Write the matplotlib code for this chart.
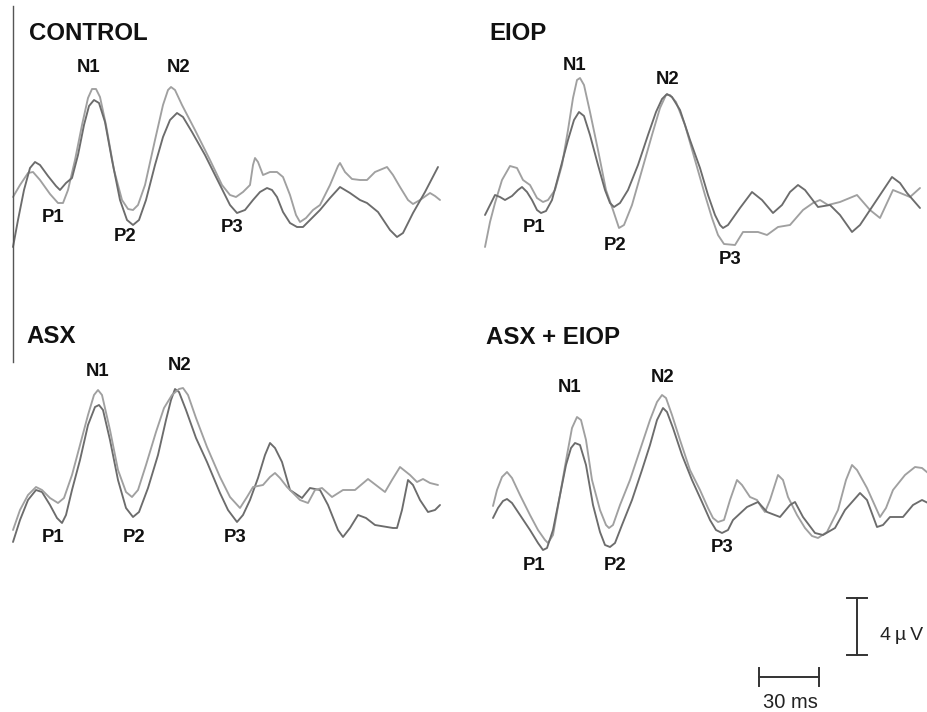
import matplotlib
matplotlib.use("Agg")
import matplotlib.pyplot as plt

W, H = 928, 712

# ---------------- data (time in ms, amplitude in µV) ----------------
# CONTROL
T_CONTROL_1 = [0, 3.5, 7.5, 10, 13.5, 18.5, 22.5, 25, 27.5, 31, 34.5, 37.5, 39.5, 41.5, 43.5, 46.5, 50.5, 54.5,
               57.5, 60, 62.5, 66, 71, 75, 77.5, 79, 81, 84.5, 91, 98.5, 104.5, 108.5, 111.5, 115, 118.5, 120,
               121, 122.5, 125, 128.5, 132, 135, 138.5, 141.5, 143.5, 146.5, 150, 153.5, 158.5, 162.5, 163.5,
               166, 169.5, 173.5, 177, 181, 187, 190, 193.5, 197.5, 200, 203.5, 208.5, 211, 213.5]
V_CONTROL_1 = [0.21, 1.05, 1.89, 1.96, 1.4, 0.42, -0.21, -0.21, 0.7, 2.8, 5.25, 7.14, 7.77, 7.77, 7.21, 5.25, 2.1, 0,
               -0.63, -0.7, -0.35, 1.05, 4.2, 6.65, 7.7, 7.91, 7.7, 6.65, 4.9, 2.8, 1.05, 0.35, 0.21, 0.56, 1.05,
               2.45, 2.94, 2.66, 1.75, 1.96, 1.96, 1.61, 0.35, -1.05, -1.54, -1.26, -0.7, -0.35, 1.05, 2.38, 2.59,
               1.96, 1.47, 1.4, 1.4, 1.96, 2.31, 1.75, 0.91, 0, -0.28, 0, 0.49, 0.28, 0]
T_CONTROL_2 = [0, 2.5, 5.5, 8.5, 11, 13.5, 17.5, 21.5, 23.5, 26.5, 29.5, 32.5, 35.5, 38, 40.5, 43, 46, 49.5, 53.5,
               57, 60, 63, 66.5, 71, 75, 78.5, 82, 85, 89.5, 96, 103.5, 108.5, 112, 116, 120, 123.5, 127, 129.5,
               132, 135, 138.5, 142, 145, 148.5, 153.5, 158.5, 163.5, 168.5, 173.5, 177, 182.5, 188.5, 192, 195,
               200, 206, 212.5]
V_CONTROL_2 = [-3.29, -1.4, 0.7, 2.24, 2.66, 2.45, 1.68, 0.98, 0.7, 1.19, 1.54, 3.15, 5.25, 6.58, 7.0, 6.79, 5.46,
               2.8, 0, -1.4, -1.75, -1.4, 0, 2.45, 4.41, 5.6, 6.09, 5.81, 4.76, 3.15, 1.05, -0.35, -0.91, -0.7, 0,
               0.56, 0.84, 0.7, 0.21, -0.84, -1.61, -1.89, -1.89, -1.4, -0.7, 0.14, 0.91, 0.49, 0, -0.21, -0.84,
               -2.1, -2.59, -2.31, -0.91, 0.56, 2.31]

# EIOP
T_EIOP_1 = [0, 2.5, 5, 8.5, 12.5, 16, 19, 22.5, 26, 29, 31.5, 35, 38.5, 41.5, 44, 46, 47.5, 49.5, 52.5, 56.5, 60.5,
            64, 67, 69.5, 73.5, 78.5, 83.5, 87.5, 90.5, 92.5, 95.5, 100, 105, 110, 113.5, 116.5, 119.5, 125, 129,
            136.5, 141, 146.5, 152.5, 159, 164, 167.5, 171.5, 177.5, 186, 192.5, 197.5, 204, 212.5, 217.5]
V_EIOP_1 = [-3.29, -1.54, -0.21, 1.4, 2.38, 2.24, 1.4, 1.05, 0.14, -0.14, 0, 0.7, 2.45, 4.9, 7.14, 8.4, 8.54, 8.05,
            6.16, 3.5, 0.7, -0.7, -1.96, -1.75, -0.35, 2.1, 4.55, 6.44, 7.35, 7.35, 6.86, 5.25, 2.8, 0.35, -1.26,
            -2.45, -3.08, -3.15, -2.24, -2.24, -2.45, -1.89, -1.75, -0.7, -0.21, 0, -0.35, -0.14, 0.35, -0.7,
            -1.26, 0.7, 0.21, 0.84]
T_EIOP_2 = [0, 2.5, 5, 7.5, 10, 13.5, 16.5, 18.5, 21, 23.5, 26, 28, 30.5, 33.5, 37.5, 41.5, 44.5, 47, 49.5, 52.5,
            56.5, 60, 62.5, 64.5, 67.5, 71.5, 76.5, 81.5, 85.5, 88.5, 91, 93.5, 97.5, 102.5, 107.5, 111.5, 115,
            117.5, 119, 121.5, 127.5, 133.5, 138.5, 144, 148.5, 152.5, 156.5, 160, 166.5, 172.5, 177.5, 183.5,
            187.5, 192.5, 197.5, 203.5, 207.5, 211, 217.5]
V_EIOP_2 = [-1.05, -0.35, 0.35, 0.21, 0, 0.28, 0.7, 0.91, 0.56, 0, -0.7, -0.91, -0.77, 0, 2.1, 4.2, 5.6, 6.16, 5.88,
            4.55, 2.45, 0.7, -0.21, -0.49, -0.21, 0.7, 2.45, 4.55, 6.16, 7.07, 7.42, 7.21, 6.3, 4.2, 2.24, 0.35,
            -1.05, -1.75, -1.96, -1.75, -0.56, 0.56, 0, -0.91, -0.35, 0.56, 1.05, 0.7, -0.49, -0.35, -1.05,
            -2.24, -1.75, -0.7, 0.35, 1.61, 1.19, 0.49, -0.56]

# ASX
T_ASX_1 = [0, 3.5, 7.5, 11.5, 14.5, 18.5, 22, 24.5, 26.5, 29.5, 33.5, 37.5, 41, 43, 45, 48.5, 52.5, 56.5, 60, 63,
           67.5, 72.5, 76.5, 79, 81, 83, 86.5, 91.5, 97, 103.5, 107.5, 112, 115, 118.5, 122.5, 126, 128.5, 131,
           134.5, 138.5, 144.5, 148.5, 153.5, 157.5, 162.5, 165, 168.5, 172.5, 176.5, 181, 190, 192, 194.5,
           197.5, 200, 203.5, 207.5, 211, 213.5]
V_ASX_1 = [-2.94, -1.4, 0, 0.7, 0.56, -0.35, -1.26, -1.61, -1.05, 0.7, 2.8, 5.25, 6.51, 6.65, 6.3, 4.2, 1.4, -0.56,
           -1.19, -0.84, 0.84, 3.15, 5.6, 7.0, 7.77, 7.56, 6.3, 4.34, 2.66, 0.49, -0.7, -1.54, -1.05, 0, 1.54,
           3.15, 3.99, 3.64, 2.66, 0.7, 0.14, 0.84, 0.7, -0.35, -2.1, -2.59, -1.96, -1.05, -1.26, -1.75, -1.96,
           -1.96, -0.7, 1.4, 1.05, 0, -0.84, -0.7, -0.35]
T_ASX_2 = [0, 3.5, 7.5, 11.5, 14.5, 18.5, 22.5, 25.5, 29.5, 33.5, 37.5, 40.5, 42.5, 44.5, 48.5, 52.5, 56.5, 59.5,
           62.5, 66.5, 71.5, 75.5, 79.5, 83, 85, 87.5, 91.5, 97, 103.5, 108.5, 113.5, 117, 120, 125, 128.5, 131,
           133.5, 137, 143.5, 147.5, 151, 154.5, 159.5, 165, 171, 177.5, 186, 189.5, 193.5, 198.5, 202, 205,
           208.5, 212.5]
V_ASX_2 = [-2.1, -0.7, 0.35, 0.91, 0.7, 0.14, -0.21, 0.14, 1.75, 3.85, 5.95, 7.35, 7.7, 7.35, 4.9, 2.1, 0.56, 0.21,
           0.7, 2.45, 4.76, 6.44, 7.35, 7.77, 7.84, 7.35, 5.74, 3.71, 1.61, 0.21, -0.56, 0.21, 0.91, 1.05, 1.61,
           1.89, 1.54, 0.91, 0, -0.21, 0.7, 0.84, 0.21, 0.7, 0.7, 1.47, 0.56, 1.4, 2.31, 1.75, 1.26, 1.47, 1.19,
           1.05]

# ASX + EIOP
T_ASXEIOP_1 = [0, 2, 4.5, 7, 9.5, 13.5, 18.5, 22.5, 26, 27.5, 30, 33.5, 37, 39.5, 42, 44, 46.5, 49.5, 53.5, 56.5,
               58, 60, 63.5, 68.5, 73.5, 78.5, 82, 84.5, 86.5, 89.5, 93.5, 98.5, 103.5, 107.5, 110, 112.5, 115.5,
               118.5, 122, 124.5, 128.5, 132, 134.5, 136, 138.5, 142.5, 145, 147.5, 152, 156, 159.5, 162.5, 167,
               172.5, 176.5, 179.5, 182, 187, 193.5, 196.5, 200, 206, 211, 214.5, 217.5]
V_ASXEIOP_1 = [-0.42, 0.7, 1.61, 1.96, 1.54, 0.35, -1.05, -2.1, -2.8, -3.01, -2.45, 0.35, 3.15, 5.04, 5.81, 5.6,
               4.2, 1.4, -0.7, -1.75, -1.96, -1.75, -0.35, 1.4, 3.5, 5.6, 6.86, 7.35, 7.14, 5.95, 4.2, 2.1, 0.7,
               -0.56, -1.26, -1.54, -1.4, 0, 1.4, 1.05, 0.21, 0, -0.56, -0.84, 0, 1.75, 1.4, 0.21, -1.05, -1.96,
               -2.52, -2.66, -2.24, -0.7, 1.4, 2.45, 2.1, 0.84, -1.19, -0.56, 0.7, 1.75, 2.31, 2.24, 1.89]
T_ASXEIOP_2 = [0, 2.5, 5, 7, 9.5, 13.5, 18.5, 22.5, 25, 27, 30, 33.5, 36.5, 39, 41, 43.5, 46.5, 50, 53.5, 56,
               58.5, 61, 64.5, 69.5, 74.5, 78.5, 82, 85, 87, 90, 94.5, 99.5, 104.5, 108.5, 111.5, 114.5, 117.5,
               120, 127, 132.5, 137, 143.5, 148.5, 151, 155, 161, 165, 171, 176, 183.5, 187, 192, 195, 198.5, 205,
               210, 214.5, 217.5]
V_ASXEIOP_2 = [-1.26, -0.56, -0.07, 0.07, -0.21, -1.05, -2.1, -3.01, -3.5, -3.36, -2.1, 0.35, 2.45, 3.64, 3.99,
               3.85, 2.45, -0.35, -2.24, -3.15, -3.29, -3.01, -1.75, 0, 2.1, 3.85, 5.6, 6.44, 6.16, 5.04, 3.15,
               1.4, -0.14, -1.4, -2.1, -2.31, -2.1, -1.4, -0.49, -0.14, -0.84, -1.19, -0.35, -0.14, -1.19, -2.31,
               -2.45, -1.96, -0.7, 0.49, 0, -1.89, -1.75, -1.19, -1.19, -0.35, 0, -0.21]

PANEL_TITLES = ["CONTROL", "EIOP", "ASX", "ASX + EIOP"]
PEAK_NAMES = ["N1", "N2", "P1", "P2", "P3"]
SCALE_MS = 30
SCALE_UV = 4

# ---------------- layout ----------------
PX_PER_MS = 2.0
PX_PER_UV = 1 / 0.07
DARK = "#6c6c6c"
LIGHT = "#a0a0a0"

plt.rcParams["font.family"] = ["Liberation Sans", "DejaVu Sans"]
fig = plt.figure(figsize=(W / 100, H / 100), dpi=100)
fig.patch.set_facecolor("white")


def panel_axes(x0, yb):
    """Full-figure transparent axes whose data origin sits at pixel (x0, yb)."""
    ax = fig.add_axes([0, 0, 1, 1])
    ax.set_xlim(-x0 / PX_PER_MS, (W - x0) / PX_PER_MS)
    ax.set_ylim((yb - H) / PX_PER_UV, yb / PX_PER_UV)
    ax.axis("off")
    ax.patch.set_alpha(0)
    return ax


def ftxt(x, y, s, **kw):
    fig.text(x / W, 1 - y / H, s, **kw)


panels = [
    (13, 200, (T_CONTROL_1, V_CONTROL_1, LIGHT), (T_CONTROL_2, V_CONTROL_2, DARK)),
    (485, 200, (T_EIOP_1, V_EIOP_1, LIGHT), (T_EIOP_2, V_EIOP_2, DARK)),
    (13, 500, (T_ASX_1, V_ASX_1, DARK), (T_ASX_2, V_ASX_2, LIGHT)),
    (493, 500, (T_ASXEIOP_1, V_ASXEIOP_1, LIGHT), (T_ASXEIOP_2, V_ASXEIOP_2, DARK)),
]

axes = []
for x0, yb, tr1, tr2 in panels:
    ax = panel_axes(x0, yb)
    for t, v, c in (tr1, tr2):
        ax.plot(t, v, color=c, lw=1.35, solid_joinstyle="round", solid_capstyle="round")
    axes.append(ax)

# left vertical rule (panel 1 coordinates)
axes[0].plot([0, 0], [(200 - 6) * 0.07, (200 - 362) * 0.07], color="#555555", lw=1.0)

# panel titles
title_pos = [(29, 33), (489, 33), (26, 336), (486, 337)]
for (x, y), s in zip(title_pos, PANEL_TITLES):
    ftxt(x, y, s, fontsize=17.3, fontweight="bold", ha="left", va="center", color="#111111")

# peak labels
label_pos = [
    [(89, 68), (179, 68), (53, 218), (125, 237), (232, 227)],
    [(575, 65), (668, 80), (534, 227), (615, 246), (730, 260)],
    [(98, 371), (180, 366), (53, 538), (134, 538), (235, 538)],
    [(570, 388), (663, 377), (534, 565), (615, 565), (722, 547)],
]
for pos in label_pos:
    for (x, y), s in zip(pos, PEAK_NAMES):
        ftxt(x, y, s, fontsize=13.3, fontweight="bold", ha="center", va="center", color="#111111")

# scale bars (in panel 4 data coordinates)
ax4 = axes[3]
vb_t = (857 - 493) / PX_PER_MS
vb_top = (500 - 598) * 0.07
cap_ms = 4.8
ax4.plot([vb_t, vb_t], [vb_top, vb_top - SCALE_UV], color="#333333", lw=1.4)
for yy in (vb_top, vb_top - SCALE_UV):
    ax4.plot([vb_t - cap_ms, vb_t + cap_ms], [yy, yy], color="#333333", lw=1.4)

hb_t0 = (759 - 493) / PX_PER_MS
hb_v = (500 - 677) * 0.07
cap_uv = 0.63
ax4.plot([hb_t0, hb_t0 + SCALE_MS], [hb_v, hb_v], color="#333333", lw=1.4)
for xx in (hb_t0, hb_t0 + SCALE_MS):
    ax4.plot([xx, xx], [hb_v - cap_uv, hb_v + cap_uv], color="#333333", lw=1.4)

ftxt(880, 635, f"{SCALE_UV}\u2009µ\u2009V", fontsize=14, ha="left", va="center", color="#222222",
     family=["Liberation Sans", "DejaVu Sans"])
ftxt(790, 703, f"{SCALE_MS} ms", fontsize=14.5, ha="center", va="center", color="#222222")

fig.savefig("out.png", dpi=100)
